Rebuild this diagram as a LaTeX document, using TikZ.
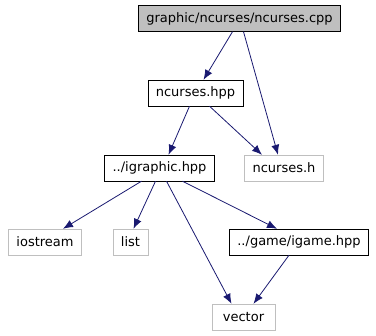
\documentclass[tikz,border=0pt]{standalone}
\usepackage{fontspec}
\setmainfont{DejaVu Sans}
\usetikzlibrary{arrows.meta}
\definecolor{edgeblue}{HTML}{191970}
\definecolor{boxgray}{HTML}{BFBFBF}

\begin{document}
\begin{tikzpicture}[
        x=1pt, y=1pt,
        file/.style={
            draw=black,
            rectangle,
            minimum height=26pt,
            inner xsep=8pt,
            font=\fontsize{13}{15}\selectfont,
            fill=white
        },
        sysfile/.style={file, draw=boxgray},
        arrow/.style={-{Latex[length=10pt,width=8pt]}, edgeblue, thick}
    ]
        \useasboundingbox (0,0) rectangle (376,-336);

        \node[file, fill=boxgray] (cpp) at (239.5,-18.5) {graphic/ncurses/ncurses.cpp};

        \node[file] (hpp) at (195.5,-93) {ncurses.hpp};
        \node[sysfile] (ncursesh) at (284,-168) {ncurses.h};

        \node[file] (igraphic) at (159.5,-168) {../igraphic.hpp};

        \node[sysfile] (iostream) at (45,-242) {iostream};
        \node[sysfile] (list) at (130.5,-242) {list};
        \node[file] (igame) at (299,-242) {../game/igame.hpp};

        \node[sysfile, minimum width=63pt] (vector) at (243.5,-317) {vector};

        \draw[arrow] ([xshift=-7pt]cpp.south) -- ([xshift=8pt]hpp.north);
        \draw[arrow] ([xshift=4pt]cpp.south) -- ([xshift=-6pt]ncursesh.north);
        \draw[arrow] ([xshift=-6pt]hpp.south) -- ([xshift=9pt]igraphic.north);
        \draw[arrow] ([xshift=14pt]hpp.south) -- ([xshift=-22pt]ncursesh.north);
        \draw[arrow] ([xshift=-18pt]igraphic.south) -- ([xshift=18pt]iostream.north);
        \draw[arrow] ([xshift=-4pt]igraphic.south) -- ([xshift=3pt]list.north);
        \draw[arrow] ([xshift=7pt]igraphic.south) -- ([xshift=-12pt]vector.north);
        \draw[arrow] ([xshift=23pt]igraphic.south) -- ([xshift=-22pt]igame.north);
        \draw[arrow] ([xshift=-10pt]igame.south) -- ([xshift=10pt]vector.north);

    \end{tikzpicture}
\end{document}
